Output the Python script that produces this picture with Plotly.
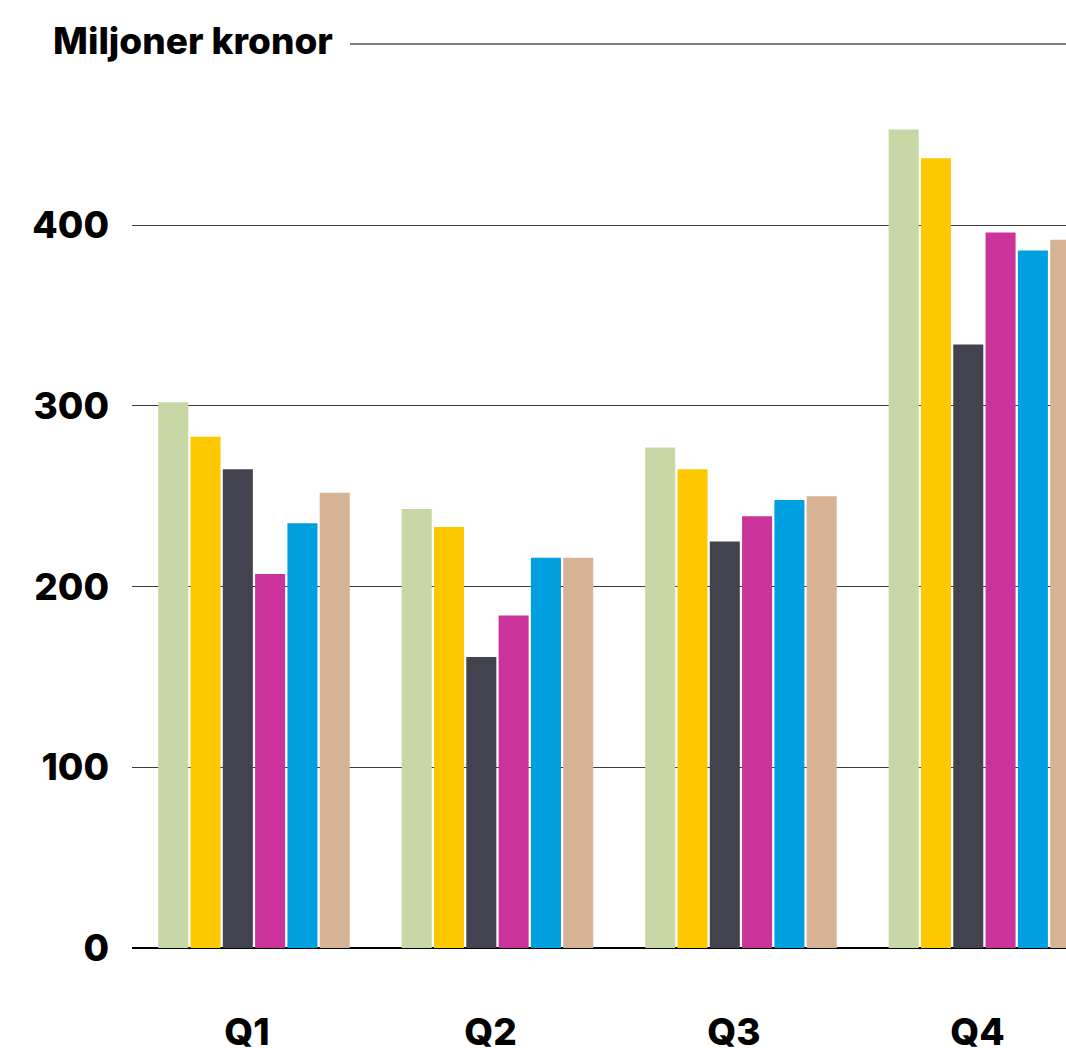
"""Grouped bar chart: Miljoner kronor per quarter, six series."""

import plotly.graph_objs as go

quarters = ["Q1", "Q2", "Q3", "Q4"]
series_names = ["Serie 1", "Serie 2", "Serie 3", "Serie 4", "Serie 5", "Serie 6"]
series_values = [
    [302, 243, 277, 453],
    [283, 233, 265, 437],
    [265, 161, 225, 334],
    [207, 184, 239, 396],
    [235, 216, 248, 386],
    [252, 216, 250, 392],
]
colors = ["#C7D7A5", "#FDC800", "#43434F", "#C9339A", "#009FE0", "#D6B394"]
y_ticks = [0, 100, 200, 300, 400]

FONT = "Inter"

fig = go.Figure()
for name, vals, col in zip(series_names, series_values, colors):
    fig.add_trace(go.Bar(x=quarters, y=vals, name=name, marker_color=col,
                         marker_line_width=0))

fig.update_layout(
    width=1066, height=1048,
    margin=dict(l=132, r=0, t=100, b=100, autoexpand=False),
    paper_bgcolor="white", plot_bgcolor="white",
    barmode="group", bargap=0.204, bargroupgap=0.07,
    showlegend=False,
    font=dict(family=FONT, color="black", size=36, weight=800),
    title=dict(text="Miljoner kronor", xref="container", yref="container",
               x=53 / 1066, xanchor="left", y=1 - 41 / 1048, yanchor="middle",
               font=dict(family=FONT, size=37, weight=800, color="black")),
)
fig.update_xaxes(range=[-0.501, 3.335], showgrid=False, showline=False,
                 automargin=False, ticks="", ticklabelstandoff=59,
                 ticklabelshift=-7,
                 tickfont=dict(family=FONT, size=37, weight=800))
fig.update_yaxes(range=[0, 469.3], tickvals=y_ticks, showgrid=True,
                 gridcolor="#3c3c3c", gridwidth=1, zeroline=True,
                 zerolinecolor="black", zerolinewidth=2, showline=False,
                 automargin=False, ticks="", ticklabelstandoff=22,
                 tickfont=dict(family=FONT, size=37, weight=800))
# rule next to the unit title
fig.add_shape(type="line", xref="paper", yref="paper",
              x0=(350 - 132) / 934, x1=1, y0=(948 - 44) / 848, y1=(948 - 44) / 848,
              line=dict(color="black", width=1))

fig.write_html("out.html", config={"displayModeBar": False},
               post_script="document.body.style.margin='0';")
